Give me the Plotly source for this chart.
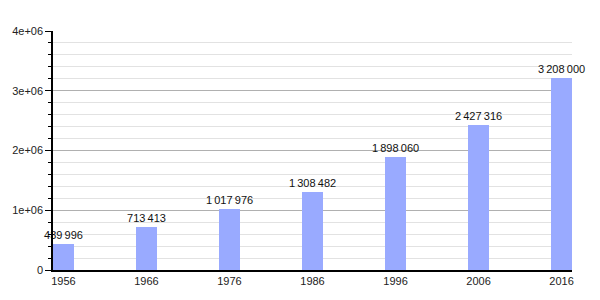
import plotly.graph_objects as go

years = [1956, 1966, 1976, 1986, 1996, 2006, 2016]
population = [439996, 713413, 1017976, 1308482, 1898060, 2427316, 3208000]
y_tick_vals = [0, 1e6, 2e6, 3e6, 4e6]
y_tick_text = ["0", "1e+06", "2e+06", "3e+06", "4e+06"]

labels = [f"{v:,}".replace(",", "\u2009") for v in population]

fig = go.Figure(go.Bar(
    x=years, y=population, width=2.5,
    marker=dict(color="#99aaff", line=dict(width=0)),
    text=labels, textposition="outside", cliponaxis=False, constraintext="none",
    textfont=dict(family="Liberation Sans, Arial, sans-serif", size=11, color="#111"),
))

fig.update_layout(
    width=600, height=300,
    margin=dict(l=50, r=28, t=31, b=30),
    plot_bgcolor="white", paper_bgcolor="white",
    showlegend=False, bargap=0,
    font=dict(family="Liberation Sans, Arial, sans-serif", size=11, color="#222"),
)
fig.update_xaxes(
    range=[1954.74, 2017.26], tickvals=years, ticktext=[str(y) for y in years],
    showgrid=False, showline=True, linecolor="black", linewidth=1.5,
    ticks="", zeroline=False, tickfont=dict(size=11, color="#222"),
)
fig.update_yaxes(
    range=[0, 4e6], tickvals=y_tick_vals, ticktext=y_tick_text,
    showgrid=True, gridcolor="#b0b0b0", gridwidth=1,
    showline=True, linecolor="black", linewidth=1.5,
    ticks="outside", ticklen=6, tickcolor="black", tickwidth=1,
    zeroline=False, tickfont=dict(size=11, color="#222"),
    minor=dict(dtick=2e5, tick0=0, showgrid=True, gridcolor="#e2e2e2", gridwidth=1,
               ticks="outside", ticklen=3, tickcolor="black", tickwidth=1),
)

fig.write_html("out.html")
